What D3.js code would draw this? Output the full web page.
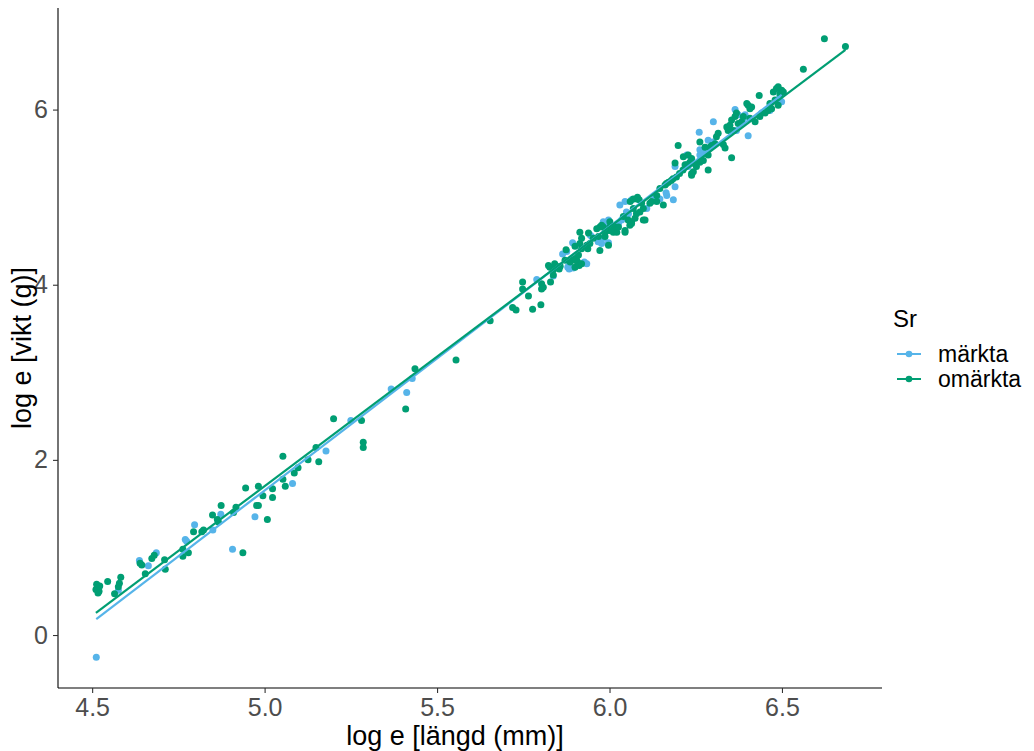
<!DOCTYPE html>
<html>
<head>
<meta charset="utf-8">
<script src="https://cdn.jsdelivr.net/npm/d3@7"></script>
<style>
  html, body { margin: 0; padding: 0; background: #ffffff; }
  svg { display: block; font-family: "Liberation Sans", Arial, sans-serif; }
</style>
</head>
<body>
<svg id="chart" width="1034" height="751"></svg>
<script>
// Log-length vs log-weight, marked and unmarked fish
const groups = ["märkta", "omärkta"];
const groupColors = ["#56B4E9", "#009E73"];

const markedLen = [4.512, 4.576, 4.637, 4.663, 4.686, 4.770, 4.774, 4.797, 4.850, 4.907,
  4.873, 4.972, 5.081, 5.178, 5.250, 5.367, 5.412, 5.428, 5.789, 5.864,
  5.876, 5.881, 5.837, 5.879, 5.883, 5.927, 5.934, 5.893, 5.943, 5.948,
  5.982, 5.992, 5.977, 5.997, 6.026, 6.030, 5.895, 5.967, 5.982, 5.997,
  6.035, 6.055, 6.045, 6.064, 6.108, 6.127, 6.146, 6.166, 6.164, 6.185,
  6.190, 6.132, 6.049, 6.224, 6.228, 6.262, 6.272, 6.260, 6.286, 6.300,
  6.301, 6.364, 6.402, 6.373, 6.388, 6.393, 6.368, 6.441, 6.465, 6.499,
  6.494, 6.262, 6.291, 6.190];
const markedWt = [-0.255, 0.51, 0.85, 0.79, 0.94, 1.09, 1.07, 1.26, 1.20, 0.98,
  1.38, 1.35, 1.73, 2.10, 2.45, 2.81, 2.77, 2.93, 4.06, 4.35,
  4.38, 4.21, 4.10, 4.20, 4.18, 4.26, 4.24, 4.48, 4.57, 4.55,
  4.72, 4.70, 4.47, 4.48, 4.70, 4.91, 4.19, 4.49, 4.53, 4.74,
  4.74, 4.81, 4.95, 4.97, 4.87, 4.97, 4.98, 5.02, 5.05, 4.97,
  5.12, 5.00, 4.83, 5.48, 5.35, 5.48, 5.52, 5.74, 5.65, 5.63,
  5.86, 6.00, 5.70, 5.94, 5.90, 5.94, 5.76, 5.96, 5.99, 6.09,
  6.15, 5.54, 5.56, 5.35];

const unmarkedLen = [4.511, 4.515, 4.520, 4.517, 4.522, 4.513, 4.545, 4.565, 4.579, 4.583,
  4.576, 4.639, 4.644, 4.654, 4.673, 4.680, 4.710, 4.712, 4.763, 4.763,
  4.779, 4.794, 4.818, 4.823, 4.937, 4.866, 4.849, 4.874, 4.863, 4.910,
  4.917, 4.977, 4.982, 4.945, 4.982, 4.995, 5.008, 5.023, 5.023, 5.053,
  5.060, 5.053, 5.086, 5.097, 5.126, 5.149, 5.157, 5.200, 5.281, 5.286,
  5.286, 5.409, 5.436, 5.555, 5.654, 5.719, 5.729, 5.777, 5.801, 5.765,
  5.748, 5.748, 5.803, 5.808, 5.803, 5.829, 5.837, 5.827, 5.841, 5.886,
  5.900, 5.905, 5.837, 5.823, 5.857, 5.854, 5.874, 5.890, 5.900, 5.907,
  5.910, 5.914, 5.919, 5.900, 5.914, 5.937, 5.943, 5.963, 5.972, 5.968,
  5.972, 5.987, 6.001, 6.011, 6.016, 6.001, 5.871, 5.912, 5.919, 5.919,
  5.939, 5.953, 5.934, 5.977, 5.992, 5.997, 6.021, 6.006, 6.045, 6.059,
  6.064, 6.054, 6.040, 6.069, 6.079, 6.088, 6.098, 6.093, 6.103, 6.117,
  6.122, 6.156, 6.137, 6.146, 6.161, 6.171, 5.982, 6.001, 6.026, 5.987,
  6.045, 6.064, 6.074, 6.078, 6.060, 6.069, 6.081, 6.086, 6.098, 6.137,
  6.165, 6.179, 6.184, 6.194, 6.203, 6.213, 6.199, 6.214, 6.219, 6.233,
  6.238, 6.252, 6.262, 6.272, 6.286, 6.291, 6.306, 6.310, 6.286, 6.238,
  6.248, 6.228, 6.262, 6.277, 6.296, 6.315, 6.330, 6.335, 6.354, 6.340,
  6.349, 6.354, 6.364, 6.368, 6.373, 6.383, 6.388, 6.344, 6.359, 6.398,
  6.402, 6.412, 6.407, 6.434, 6.407, 6.422, 6.436, 6.451, 6.460, 6.470,
  6.475, 6.484, 6.489, 6.499, 6.494, 6.504, 6.489, 6.480, 6.465, 6.623,
  6.684, 6.562, 6.190, 6.238, 6.243, 6.224];
const unmarkedWt = [0.52, 0.54, 0.50, 0.48, 0.56, 0.58, 0.61, 0.47, 0.59, 0.66,
  0.55, 0.82, 0.80, 0.70, 0.875, 0.91, 0.86, 0.75, 0.98, 0.90,
  0.94, 1.18, 1.18, 1.20, 0.94, 1.29, 1.37, 1.48, 1.32, 1.40,
  1.46, 1.48, 1.48, 1.68, 1.70, 1.59, 1.32, 1.67, 1.57, 1.78,
  1.70, 2.04, 1.85, 1.91, 2.00, 2.14, 1.98, 2.47, 2.45, 2.20,
  2.14, 2.58, 3.04, 3.14, 3.59, 3.74, 3.71, 3.72, 3.77, 3.87,
  4.03, 3.95, 4.01, 3.97, 3.95, 4.03, 4.11, 4.20, 4.24, 4.26,
  4.20, 4.28, 4.17, 4.22, 4.21, 4.18, 4.40, 4.28, 4.30, 4.26,
  4.34, 4.47, 4.41, 4.44, 4.60, 4.41, 4.47, 4.64, 4.66, 4.55,
  4.39, 4.55, 4.62, 4.60, 4.66, 4.72, 4.28, 4.22, 4.24, 4.53,
  4.59, 4.53, 4.45, 4.68, 4.62, 4.45, 4.60, 4.62, 4.60, 4.68,
  4.72, 4.74, 4.78, 4.87, 4.98, 4.83, 4.87, 4.93, 4.74, 4.93,
  4.95, 4.91, 5.02, 5.10, 5.14, 5.17, 4.66, 4.66, 4.66, 4.60,
  4.62, 4.70, 4.76, 4.81, 4.95, 4.98, 5.00, 4.97, 4.74, 4.95,
  5.155, 5.19, 5.21, 5.23, 5.27, 5.31, 5.59, 5.46, 5.37, 5.40,
  5.27, 5.35, 5.40, 5.42, 5.48, 5.57, 5.61, 5.69, 5.31, 5.44,
  5.38, 5.48, 5.63, 5.57, 5.59, 5.73, 5.60, 5.56, 5.45, 5.80,
  5.82, 5.88, 5.92, 5.96, 5.84, 5.86, 5.92, 5.76, 5.76, 6.07,
  6.05, 6.03, 6.01, 6.16, 5.90, 5.86, 5.92, 5.96, 5.99, 6.01,
  6.20, 6.24, 6.26, 6.22, 6.18, 6.20, 6.05, 6.11, 6.07, 6.81,
  6.72, 6.46, 5.39, 5.25, 5.29, 5.37];

const xTicks = [4.5, 5.0, 5.5, 6.0, 6.5];
const yTicks = [0, 2, 4, 6];
const xTitle = "log e [längd (mm)]";
const yTitle = "log e [vikt (g)]";
const legendTitle = "Sr";

const svg = d3.select("#chart");
const panel = { left: 58, right: 882, top: 8, bottom: 688 };

const x = d3.scaleLinear().domain([4.401, 6.79]).range([panel.left, panel.right]);
const y = d3.scaleLinear().domain([-0.605, 7.16]).range([panel.bottom, panel.top]);
const color = d3.scaleOrdinal().domain(groups).range(groupColors);

const series = [
  { name: groups[0], len: markedLen, wt: markedWt },
  { name: groups[1], len: unmarkedLen, wt: unmarkedWt }
].map(s => ({ ...s, pts: s.len.map((v, i) => ({ x: v, y: s.wt[i] })) }));

// least-squares fit per group, drawn over each group's own length range
function fit(pts) {
  const mx = d3.mean(pts, d => d.x), my = d3.mean(pts, d => d.y);
  const sxy = d3.sum(pts, d => (d.x - mx) * (d.y - my));
  const sxx = d3.sum(pts, d => (d.x - mx) ** 2);
  const b = sxy / sxx, a = my - b * mx;
  const [x0, x1] = d3.extent(pts, d => d.x);
  return [{ x: x0, y: a + b * x0 }, { x: x1, y: a + b * x1 }];
}

// points
series.forEach(s => {
  svg.append("g").selectAll("circle").data(s.pts).join("circle")
    .attr("cx", d => x(d.x)).attr("cy", d => y(d.y)).attr("r", 3.5)
    .attr("fill", color(s.name));
});

// fitted lines
const line = d3.line().x(d => x(d.x)).y(d => y(d.y));
series.forEach(s => {
  svg.append("path").datum(fit(s.pts)).attr("d", line)
    .attr("fill", "none").attr("stroke", color(s.name)).attr("stroke-width", 2.2);
});

// axes
const xAxis = svg.append("g").attr("transform", `translate(0,${panel.bottom})`)
  .call(d3.axisBottom(x).tickValues(xTicks).tickFormat(d3.format(".1f")).tickSizeOuter(0).tickSize(5).tickPadding(5));
const yAxis = svg.append("g").attr("transform", `translate(${panel.left},0)`)
  .call(d3.axisLeft(y).tickValues(yTicks).tickFormat(d3.format("d")).tickSizeOuter(0).tickSize(5).tickPadding(5));
[xAxis, yAxis].forEach(g => {
  g.select(".domain").attr("stroke", "#000").attr("stroke-width", 1.1);
  g.selectAll(".tick line").attr("stroke", "#333").attr("stroke-width", 1.1);
  g.selectAll(".tick text").attr("fill", "#4D4D4D").style("font-size", "25px")
    .style("font-family", "'Liberation Sans', Arial, sans-serif");
});
// axis domain lines span the whole panel
xAxis.select(".domain").attr("d", `M${panel.left},0H${panel.right}`);
yAxis.select(".domain").attr("d", `M0,${panel.top}V${panel.bottom}`);

svg.append("text").attr("x", (panel.left + panel.right) / 2 - 15).attr("y", 745)
  .attr("text-anchor", "middle").style("font-size", "27px").attr("fill", "#000").text(xTitle);
svg.append("text").attr("transform", `translate(31,${(panel.top + panel.bottom) / 2}) rotate(-90)`)
  .attr("text-anchor", "middle").style("font-size", "27px").attr("fill", "#000").text(yTitle);

// legend
const legend = svg.append("g");
legend.append("text").attr("x", 893).attr("y", 327).style("font-size", "24px").attr("fill", "#000").text(legendTitle);
groups.forEach((g, i) => {
  const cy = 354 + i * 25;
  legend.append("line").attr("x1", 897).attr("x2", 921).attr("y1", cy).attr("y2", cy)
    .attr("stroke", color(g)).attr("stroke-width", 2);
  legend.append("circle").attr("cx", 909).attr("cy", cy).attr("r", 3.3).attr("fill", color(g));
  legend.append("text").attr("x", 938).attr("y", cy + 8).style("font-size", "23px").attr("fill", "#000").text(g);
});
</script>
</body>
</html>
